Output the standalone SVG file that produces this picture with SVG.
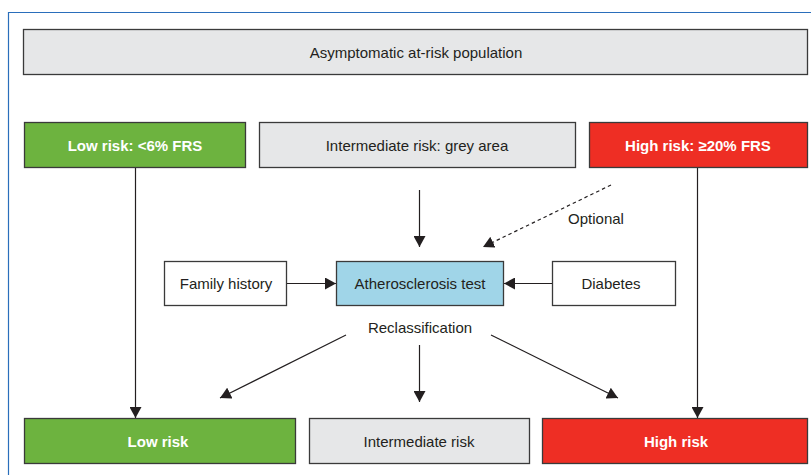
<svg xmlns="http://www.w3.org/2000/svg" width="811" height="475" viewBox="0 0 811 475">
<style>
text{font-family:"Liberation Sans Narrow","Liberation Sans",Arial,sans-serif;font-size:15px;text-anchor:middle;dominant-baseline:central;fill:#231f20}
.b{stroke:#3a3a3a;stroke-width:1.3}
.grey{fill:#e6e7e8}
.green{fill:#6db33f}
.red{fill:#ee2e24}
.blue{fill:#a0d5e8}
.white{fill:#ffffff}
.w{fill:#ffffff;font-weight:bold}
.c{stroke:#231f20;stroke-width:1.2;fill:none}
.d{stroke-dasharray:3.5 3}
</style>
<defs>
<marker id="ah" viewBox="0 0 11 12" refX="11" refY="6" markerWidth="11" markerHeight="12" markerUnits="userSpaceOnUse" orient="auto">
<path d="M0,0 L11,6 L0,12 z" fill="#231f20"/>
</marker>
</defs>
<path d="M8.5,475 V12.5 H811" fill="none" stroke="#2a6ebb" stroke-width="1.2"/>
<g id="population"><rect class="b grey" x="23.5" y="29.5" width="784" height="45"/><text x="416" y="52">Asymptomatic at-risk population</text></g>
<g id="low-frs"><rect class="b green" x="24.5" y="122.5" width="221" height="45"/><text class="w" x="135" y="145">Low risk: &lt;6% FRS</text></g>
<g id="intermediate-grey"><rect class="b grey" x="259.5" y="122.5" width="316" height="45"/><text x="417" y="145">Intermediate risk: grey area</text></g>
<g id="high-frs"><rect class="b red" x="589.5" y="122.5" width="218" height="45"/><text class="w" x="698" y="145">High risk: ≥20% FRS</text></g>
<g id="family"><rect class="b white" x="164.5" y="261.5" width="122" height="44"/><text x="226" y="283">Family history</text></g>
<g id="test"><rect class="b blue" x="336.5" y="261.5" width="167" height="44"/><text x="420" y="283">Atherosclerosis test</text></g>
<g id="diabetes"><rect class="b white" x="552.5" y="261.5" width="123" height="44"/><text x="611" y="283">Diabetes</text></g>
<g id="low"><rect class="b green" x="24.5" y="418.5" width="271" height="45"/><text class="w" x="158" y="441">Low risk</text></g>
<g id="intermediate"><rect class="b grey" x="309.5" y="418.5" width="220" height="45"/><text x="419" y="441">Intermediate risk</text></g>
<g id="high"><rect class="b red" x="542.5" y="418.5" width="265" height="45"/><text class="w" x="676" y="441">High risk</text></g>
<g id="labels"><text x="596" y="218">Optional</text><text x="420" y="327">Reclassification</text></g>
<g id="connectors">
<path class="c" d="M135.5,168 V418" marker-end="url(#ah)"/>
<path class="c" d="M697.5,168 V418" marker-end="url(#ah)"/>
<path class="c" d="M419.5,190 V247" marker-end="url(#ah)"/>
<path class="c d" d="M611,185 L483,247" marker-end="url(#ah)"/>
<path class="c" d="M287,283.5 H336" marker-end="url(#ah)"/>
<path class="c" d="M552,283.5 H504" marker-end="url(#ah)"/>
<path class="c" d="M346,335 L220,398" marker-end="url(#ah)"/>
<path class="c" d="M419.5,345 V402" marker-end="url(#ah)"/>
<path class="c" d="M491,335 L618,398" marker-end="url(#ah)"/>
</g>
</svg>
